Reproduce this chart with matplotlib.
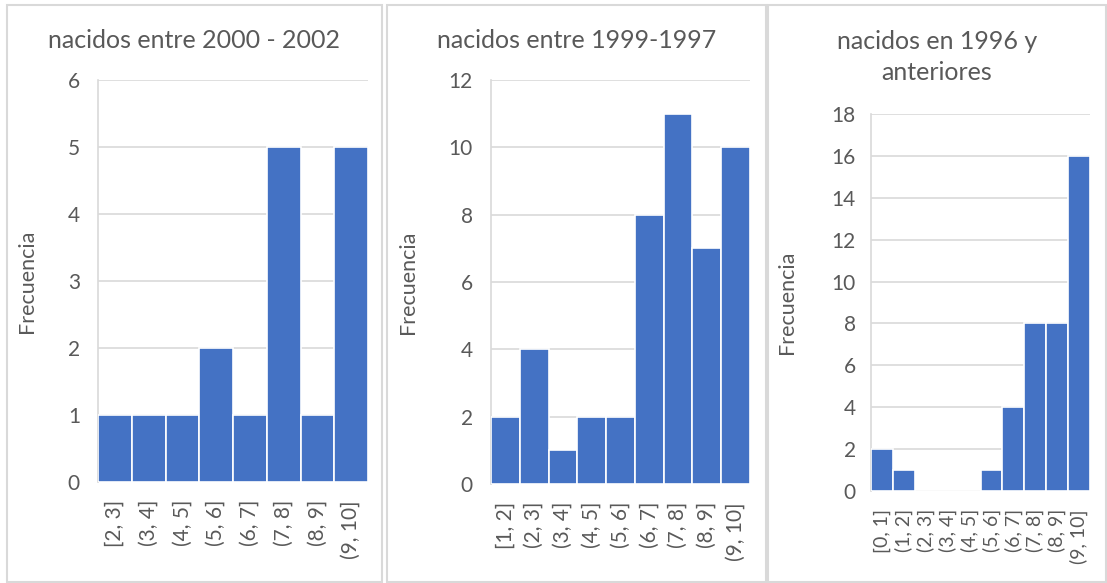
import matplotlib as mpl
from matplotlib import pyplot as plt
from matplotlib.patches import Rectangle
import numpy as np

mpl.rcParams.update({'font.family': ['Lato', 'DejaVu Sans'], 'font.size': 14})

TEXT_COLOR = '#595959'
GRID_COLOR = '#D9D9D9'
BAR_COLOR = '#4472C4'

titles = ['nacidos entre 2000 - 2002', 'nacidos entre 1999-1997',
          'nacidos en 1996 y\nanteriores']

bins_1 = ['[2, 3]', '(3, 4]', '(4, 5]', '(5, 6]', '(6, 7]', '(7, 8]',
          '(8, 9]', '(9, 10]']
freq_1 = [1, 1, 1, 2, 1, 5, 1, 5]

bins_2 = ['[1, 2]', '(2, 3]', '(3, 4]', '(4, 5]', '(5, 6]', '(6, 7]',
          '(7, 8]', '(8, 9]', '(9, 10]']
freq_2 = [2, 4, 1, 2, 2, 8, 11, 7, 10]

bins_3 = ['[0, 1]', '(1, 2]', '(2, 3]', '(3, 4]', '(4, 5]', '(5, 6]',
          '(6, 7]', '(7, 8]', '(8, 9]', '(9, 10]']
freq_3 = [2, 1, 0, 0, 0, 1, 4, 8, 8, 16]

y_max = [6, 12, 18]
y_step = [1, 2, 2]

W, H = 1107, 583


def px_box(left, top, right, bottom):
    return [left / W, 1 - bottom / H, (right - left) / W, (bottom - top) / H]


def plot_hist(ax, bins, freq, ymax, ystep, ylabel_x, ytick_pad, xsize):
    x = np.arange(len(bins))
    ax.bar(x, freq, width=1.0, color=BAR_COLOR, edgecolor='white',
           linewidth=1.2, zorder=3)
    ax.set_xlim(-0.5, len(bins) - 0.5)
    ax.set_ylim(0, ymax)
    ax.set_yticks(np.arange(0, ymax + 1, ystep))
    ax.set_xticks(x)
    ax.set_xticklabels(bins, rotation=90)
    ax.grid(axis='y', color=GRID_COLOR, linewidth=1.2, zorder=0)
    for side in ['top', 'right', 'bottom']:
        ax.spines[side].set_visible(False)
    ax.spines['left'].set_color(GRID_COLOR)
    ax.spines['left'].set_linewidth(1.2)
    ax.tick_params(axis='y', length=0, pad=ytick_pad, labelsize=15,
                   labelcolor=TEXT_COLOR)
    ax.tick_params(axis='x', length=0, pad=13, labelsize=xsize,
                   labelcolor=TEXT_COLOR)
    ax.set_ylabel('Frecuencia', color=TEXT_COLOR, fontsize=15.5)
    ax.yaxis.set_label_coords(ylabel_x, 0.5)


fig = plt.figure(figsize=(W / 100, H / 100), dpi=100)

# chart frames + titles centred on each frame
frames = [(7, 382), (387, 766), (768, 1106)]
title_y = [40, 40, 57]
for (left, right), title, ty in zip(frames, titles, title_y):
    fig.patches.append(Rectangle((left / W, 1 / H), (right - left) / W,
                                 (H - 6) / H, transform=fig.transFigure,
                                 fill=False, edgecolor=GRID_COLOR,
                                 linewidth=1.5))
    fig.text((left + right) / 2 / W, 1 - ty / H, title, color=TEXT_COLOR,
             fontsize=18, ha='center', va='center', linespacing=1.45)

ax1 = fig.add_axes(px_box(98, 80, 368, 482))
ax2 = fig.add_axes(px_box(491, 80, 750, 484))
ax3 = fig.add_axes(px_box(871, 114, 1090, 491))

plot_hist(ax1, bins_1, freq_1, y_max[0], y_step[0], -0.226, 13, 15)
plot_hist(ax2, bins_2, freq_2, y_max[1], y_step[1], -0.282, 13, 15)
plot_hist(ax3, bins_3, freq_3, y_max[2], y_step[2], -0.338, 11, 14)

fig.savefig('out.png', dpi=100)
